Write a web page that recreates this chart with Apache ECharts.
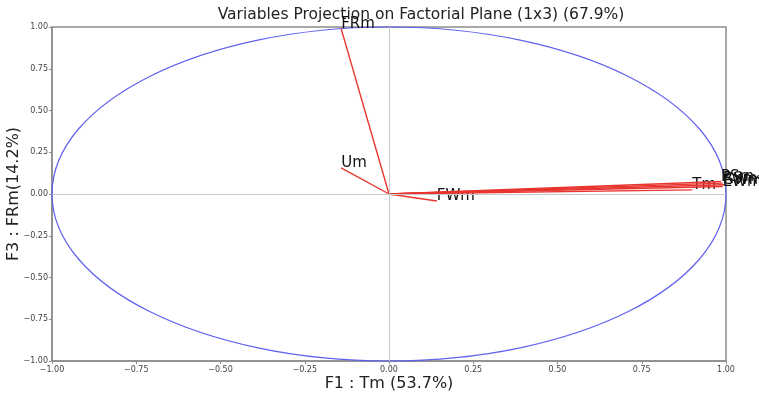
<!DOCTYPE html>
<html>
<head>
<meta charset="utf-8">
<script src="https://cdn.jsdelivr.net/npm/echarts@6/dist/echarts.min.js"></script>
<style>
  html, body { margin: 0; padding: 0; background: #fff; }
  #chart { width: 759px; height: 396px; }
</style>
</head>
<body>
<div id="chart"></div>
<script>
// variables projected on plane F1 x F3
var varNames = ['FRm', 'Um', 'FWm', 'Tm', 'PSm', 'RSm', 'SWm', 'EWm']
var f1Coords = [-0.142, -0.142, 0.142, 0.90, 0.985, 0.99, 0.995, 0.99]
var f3Coords = [0.99, 0.156, -0.042, 0.025, 0.075, 0.065, 0.055, 0.045]
var tickValues = [-1, -0.75, -0.5, -0.25, 0, 0.25, 0.5, 0.75, 1]
var circleRadius = 1

var chartDom = document.getElementById('chart')
var myChart = echarts.init(chartDom)

function fmt(v) {
  var s = Math.abs(v).toFixed(2)
  return v < 0 ? '\u2212' + s : s
}

var vectorData = varNames.map(function (n, i) {
  return [f1Coords[i], f3Coords[i], n]
})

var option = {
  backgroundColor: '#fff',
  animation: false,
  title: {
    text: 'Variables Projection on Factorial Plane (1x3) (67.9%)',
    left: 416,
    top: 2,
    textAlign: 'center',
    textStyle: {
      fontFamily: 'DejaVu Sans',
      fontSize: 15.5,
      fontWeight: 'normal',
      color: '#222'
    }
  },
  grid: {
    left: 52,
    right: 33,
    top: 27,
    bottom: 35,
    containLabel: false,
    outerBoundsMode: 'none',
    show: true,
    borderColor: '#8c8c8c',
    borderWidth: 1.5
  },
  xAxis: {
    type: 'value',
    min: -1,
    max: 1,
    interval: 0.25,
    name: 'F1 : Tm (53.7%)',
    nameLocation: 'middle',
    nameGap: 15,
    nameMoveOverlap: false,
    nameTextStyle: { fontFamily: 'DejaVu Sans', fontSize: 16, color: '#222' },
    axisLine: { show: true, onZero: false, lineStyle: { color: '#8c8c8c', width: 1.5 } },
    axisTick: { show: true, length: 3, lineStyle: { color: '#8c8c8c' } },
    axisLabel: {
      fontFamily: 'DejaVu Sans',
      fontSize: 8,
      color: '#444',
      margin: 5,
      formatter: fmt
    },
    splitLine: { show: false }
  },
  yAxis: {
    type: 'value',
    min: -1,
    max: 1,
    interval: 0.25,
    name: 'F3 : FRm(14.2%)',
    nameLocation: 'middle',
    nameGap: 30,
    nameMoveOverlap: false,
    nameTextStyle: { fontFamily: 'DejaVu Sans', fontSize: 16, color: '#222' },
    axisLine: { show: true, onZero: false, lineStyle: { color: '#8c8c8c', width: 1.5 } },
    axisTick: { show: true, length: 3, lineStyle: { color: '#8c8c8c' } },
    axisLabel: {
      fontFamily: 'DejaVu Sans',
      fontSize: 8,
      color: '#444',
      margin: 4,
      formatter: fmt
    },
    splitLine: { show: false }
  },
  series: [
    {
      // unit circle
      type: 'custom',
      silent: true,
      data: [[0, 0, circleRadius]],
      renderItem: function (params, api) {
        var c = api.coord([api.value(0), api.value(1)])
        var r = api.value(2)
        var px = api.coord([r, 0])
        var py = api.coord([0, r])
        return {
          type: 'ellipse',
          shape: { cx: c[0], cy: c[1], rx: px[0] - c[0], ry: c[1] - py[1] },
          style: { fill: 'none', stroke: '#6060f0', lineWidth: 1.2 }
        }
      },
      markLine: {
        silent: true,
        symbol: 'none',
        label: { show: false },
        lineStyle: { color: '#c8c8c8', type: 'solid', width: 1 },
        data: [{ xAxis: 0 }, { yAxis: 0 }]
      },
      z: 2
    },
    {
      // variable vectors
      type: 'custom',
      silent: true,
      data: vectorData,
      renderItem: function (params, api) {
        var o = api.coord([0, 0])
        var p = api.coord([api.value(0), api.value(1)])
        return {
          type: 'group',
          children: [
            {
              type: 'line',
              shape: { x1: o[0], y1: o[1], x2: p[0], y2: p[1] },
              style: { stroke: '#e8352f', lineWidth: 1.4 }
            },
            {
              type: 'text',
              style: {
                x: p[0],
                y: p[1] + 3,
                text: vectorData[params.dataIndex][2],
                textAlign: 'left',
                textVerticalAlign: 'bottom',
                fontFamily: 'DejaVu Sans',
                fontSize: 15,
                fill: '#111'
              }
            }
          ]
        }
      },
      z: 3
    }
  ]
}

option && myChart.setOption(option)
</script>
</body>
</html>
